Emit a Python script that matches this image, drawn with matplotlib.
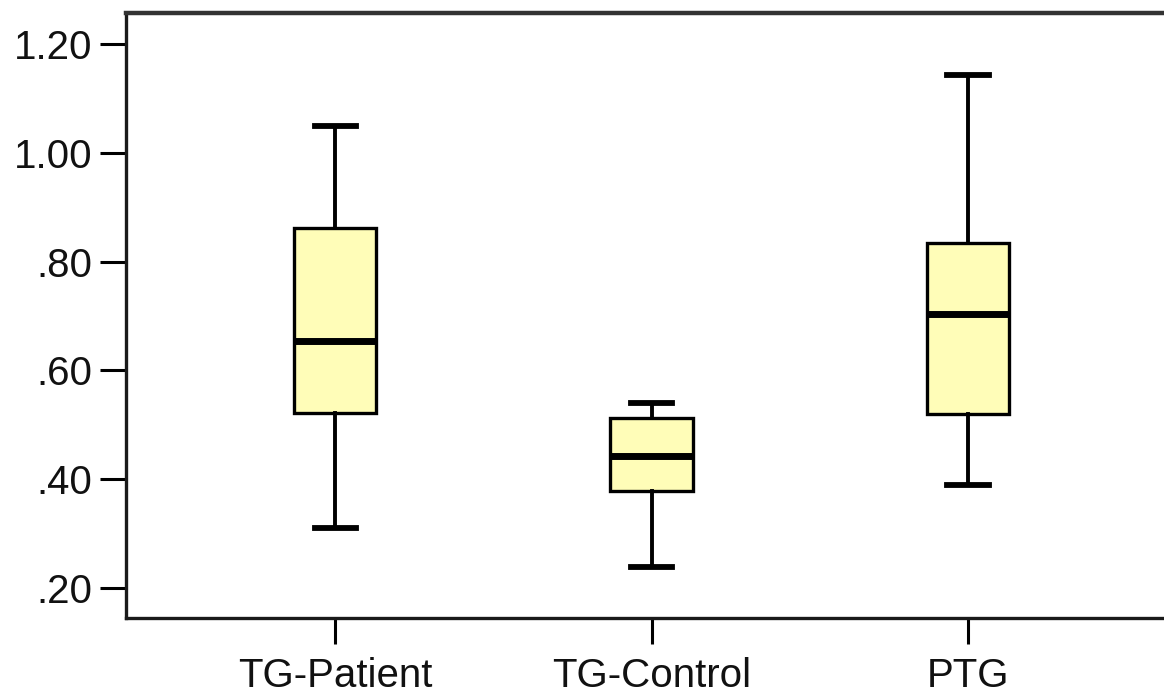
import matplotlib
matplotlib.use("Agg")
import matplotlib.pyplot as plt

# values
groups  = ["TG-Patient", "TG-Control", "PTG"]
whislo  = [0.310, 0.239, 0.389]
q1      = [0.522, 0.378, 0.520]
median  = [0.654, 0.443, 0.704]
q3      = [0.862, 0.512, 0.834]
whishi  = [1.049, 0.540, 1.143]
yticks  = [0.20, 0.40, 0.60, 0.80, 1.00, 1.20]
ylabels = [".20", ".40", ".60", ".80", "1.00", "1.20"]

FONT = ["Liberation Sans", "Arial", "DejaVu Sans"]

stats = [
    dict(label=g, whislo=lo, q1=a, med=m, q3=b, whishi=hi, fliers=[])
    for g, lo, a, m, b, hi in zip(groups, whislo, q1, median, q3, whishi)
]

fig = plt.figure(figsize=(11.64, 6.98), dpi=100)
ax = fig.add_axes([126 / 1164, 80 / 698, 1.0 - 126 / 1164 + 0.002, 605 / 698])

ax.bxp(
    stats, positions=[1, 2, 3], widths=0.26, patch_artist=True,
    showfliers=False,
    boxprops=dict(facecolor="#FFFDB8", edgecolor="black", linewidth=2.4),
    medianprops=dict(color="black", linewidth=5.0, solid_capstyle="butt"),
    whiskerprops=dict(color="black", linewidth=2.8),
    capprops=dict(color="black", linewidth=4.2),
    capwidths=0.13,
)

ax.set_xlim(0.339, 3.627)
ax.set_ylim(0.145, 1.257)
ax.set_yticks(yticks)
ax.set_yticklabels(ylabels)
ax.set_xticks([1, 2, 3])
ax.set_xticklabels(groups)

for lab in ax.get_xticklabels() + ax.get_yticklabels():
    lab.set_family(FONT)
    lab.set_fontsize(29)
    lab.set_color("#111111")

ax.tick_params(axis="both", direction="out", length=19, width=2.2, color="black")
ax.tick_params(axis="y", pad=5)
ax.tick_params(axis="x", pad=9)

for side in ["left", "bottom", "top"]:
    ax.spines[side].set_linewidth(2.4)
    ax.spines[side].set_color("#1a1a1a")
ax.spines["top"].set_linewidth(3.2)
ax.spines["top"].set_color("#333333")
ax.spines["right"].set_visible(False)

fig.savefig("out.png", dpi=100, facecolor="white")
